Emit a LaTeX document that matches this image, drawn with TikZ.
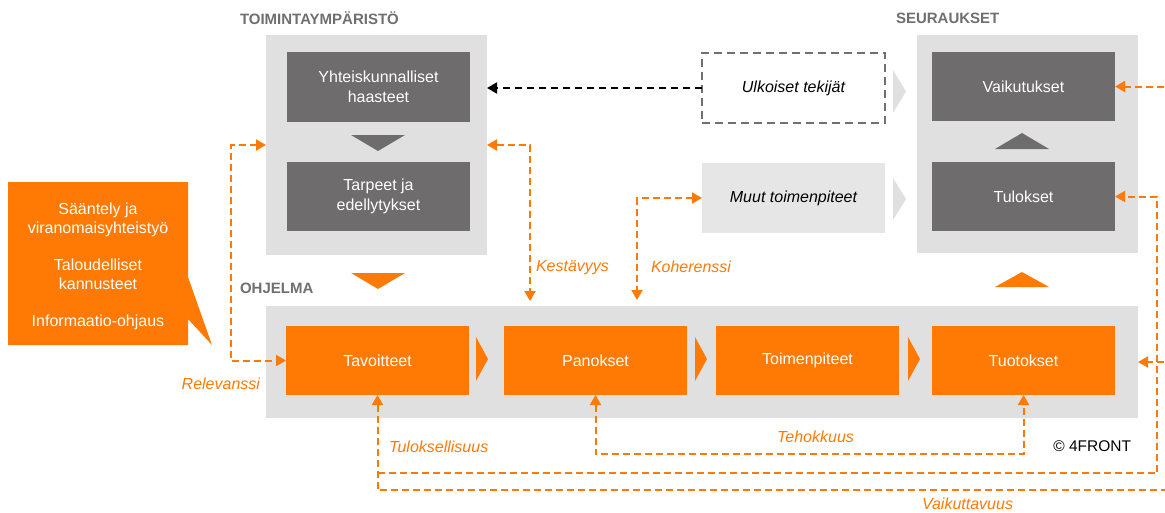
\documentclass[tikz,border=0pt]{standalone}
\usepackage{fontspec}
\setmainfont{Liberation Sans}
\usetikzlibrary{arrows.meta}
\definecolor{orng}{HTML}{FF7A05}
\definecolor{dgray}{HTML}{6E6C6C}
\definecolor{lgray}{HTML}{E0E0E0}
\definecolor{mgray}{HTML}{E6E6E6}
\definecolor{hgray}{HTML}{6F6F6F}
\definecolor{bgray}{HTML}{707070}
\begin{document}
\begin{tikzpicture}[x=1pt,y=-1pt,
  every node/.style={inner sep=0pt,outer sep=0pt},
  cont/.style={fill=lgray},
  dbox/.style={fill=dgray,text=white,minimum width=183pt,minimum height=70pt,align=center,font=\fontsize{16}{19.5}\selectfont},
  obox/.style={fill=orng,text=white,minimum width=183pt,minimum height=69pt,align=center,font=\fontsize{16}{19.5}\selectfont},
  ibox/.style={minimum width=183pt,minimum height=70pt,align=center,font=\fontsize{16}{19.5}\selectfont\itshape},
  hdr/.style={text=hgray,font=\fontsize{15}{18}\selectfont\bfseries,anchor=west},
  lbl/.style={text=orng,font=\fontsize{16}{19}\selectfont\itshape},
  odash/.style={draw=orng,line width=2pt,dash pattern=on 7pt off 4pt},
  bdash/.style={draw=black,line width=2pt,dash pattern=on 7pt off 5pt},
  tipend/.style={-{Triangle[length=10pt,width=11pt]}},
  tipstart/.style={{Triangle[length=10pt,width=11pt]}-},
  tipboth/.style={{Triangle[length=10pt,width=11pt]}-{Triangle[length=10pt,width=11pt]}}
]
\useasboundingbox (0,0) rectangle (1165,512);

% headers
\node[hdr] (hdrenv) at (240,18) {TOIMINTAYMPÄRISTÖ};
\node[hdr] (hdrseur) at (896,18) {SEURAUKSET};
\node[hdr] (hdrprog) at (240,288) {OHJELMA};

% containers
\node[cont,minimum width=221pt,minimum height=220pt] (env) at (376.5,145) {};
\node[cont,minimum width=221pt,minimum height=218pt] (seur) at (1027.5,144) {};
\node[cont,minimum width=872pt,minimum height=112pt] (prog) at (702,362) {};

% environment boxes
\node[dbox] (haast) at (378.5,87) {Yhteiskunnalliset\\haasteet};
\node[dbox,minimum height=69pt] (tarp) at (378.5,196.5) {Tarpeet ja\\edellytykset};
\fill[dgray] (351,135) -- (405,135) -- (378,151) -- cycle;
\fill[orng] (351,273) -- (405,273) -- (378,289) -- cycle;

% external boxes
\node[ibox,draw=bgray,line width=2pt,dash pattern=on 8pt off 5pt] (ulk) at (793.5,88) {Ulkoiset tekijät};
\node[ibox,fill=mgray] (muut) at (793.5,198) {Muut toimenpiteet};
\fill[lgray] (893,70) -- (906,91.5) -- (893,113) -- cycle;
\fill[lgray] (893,178) -- (906,199) -- (893,220) -- cycle;

% consequences
\node[dbox,minimum height=69pt] (vaik) at (1023.5,86.5) {Vaikutukset};
\node[dbox,minimum height=69pt] (tulo) at (1023.5,196.5) {Tulokset};
\fill[dgray] (995,149) -- (1049,149) -- (1022,133) -- cycle;
\fill[orng] (995,287) -- (1049,287) -- (1022,272) -- cycle;

% program boxes
\node[obox] (tav) at (377.5,360.5) {Tavoitteet};
\node[obox] (pan) at (595.5,360.5) {Panokset};
\node[obox] (toim) at (807.5,360.5) {Toimenpiteet};
\node[obox] (tuot) at (1023.5,360.5) {Tuotokset};
\fill[orng] (476,337) -- (488,359) -- (476,381) -- cycle;
\fill[orng] (695,337) -- (707,359) -- (695,381) -- cycle;
\fill[orng] (908,337) -- (920,359) -- (908,381) -- cycle;

% callout
\fill[orng] (8,182) -- (188,182) -- (188,277) -- (212,345) -- (188,319) -- (188,345) -- (8,345) -- cycle;
\node[text=white,align=center,font=\fontsize{16}{19}\selectfont] (callout) at (98,266)
  {Sääntely ja\\viranomaisyhteistyö\\[18pt]Taloudelliset\\kannusteet\\[18pt]Informaatio-ohjaus};

% coordinates for free ends
\coordinate (kend) at (530,301);
\coordinate (kohend) at (637,300);
\coordinate (vr) at (1175,86.5);
\coordinate (tcorner) at (1157,473);
\coordinate (vend) at (1175,490);
\coordinate (tr) at (1175,362);

% connectors
\draw[bdash,tipend] (ulk.west) -- (ulk.west -| env.east);
\draw[odash,tipboth] (env.west) -- ++(-35,0) |- (tav.west);
\draw[odash,tipboth] (env.east) -| (kend);
\draw[odash,tipboth] (muut.west) -| (kohend);
\draw[odash,tipend] (vr) -- (vaik.east);
\draw[odash,tipend] (tav.south |- tcorner) -- (tcorner) |- (tulo.east);
\draw[odash,tipstart] (tav.south) |- (vend);
\draw[odash,tipend] (tr) -- (prog.east);
\draw[odash,tipboth] (pan.south) -- ++(0,59) -| (tuot.south);

% labels
\node[lbl,anchor=west] (lkest) at (536,268) {Kestävyys};
\node[lbl,anchor=west] (lkoh) at (651,267) {Koherenssi};
\node[lbl,anchor=east] (lrel) at (260,384) {Relevanssi};
\node[lbl,anchor=west] (ltul) at (389,447) {Tuloksellisuus};
\node[lbl] (lteh) at (815.5,437) {Tehokkuus};
\node[lbl] (lvai) at (967.5,504) {Vaikuttavuus};
\node[anchor=east,font=\fontsize{15.5}{18}\selectfont] (copy) at (1131,446) {© 4FRONT};
\end{tikzpicture}
\end{document}
